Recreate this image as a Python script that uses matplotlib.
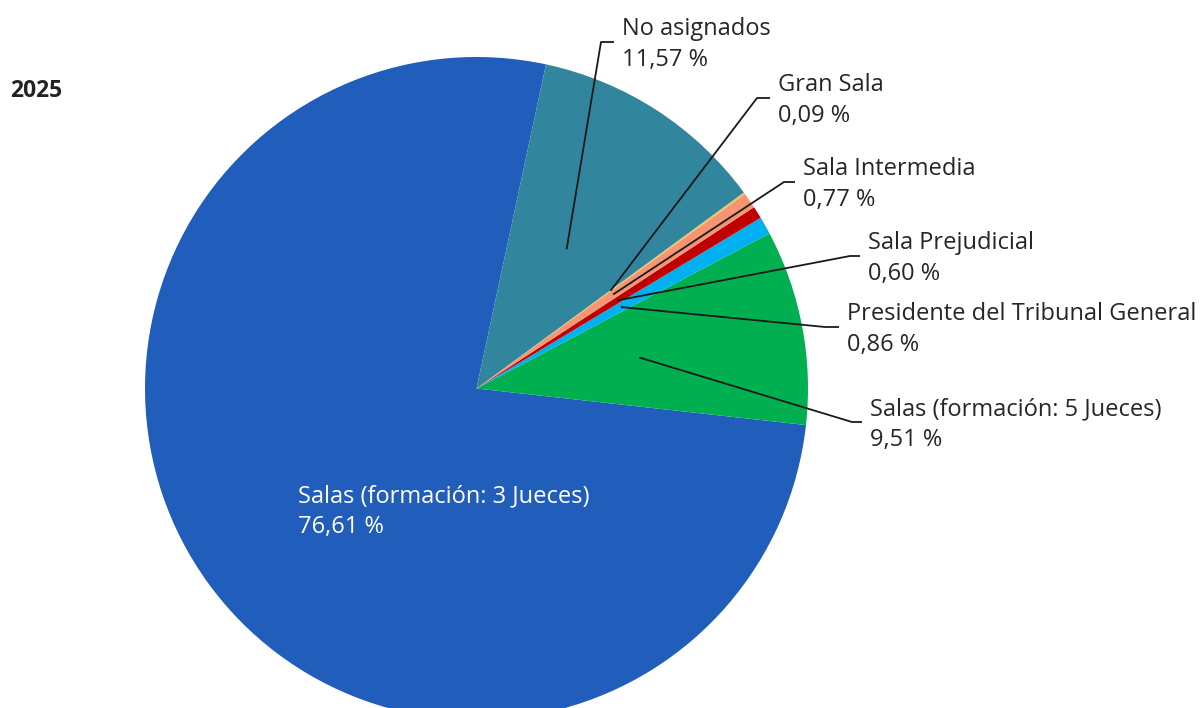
import numpy as np
import matplotlib
matplotlib.use("Agg")
from matplotlib import pyplot as plt

# slices in drawing order (counter-clockwise from the top-left edge of the big slice)
labels = ["Salas (formación: 3 Jueces)", "Salas (formación: 5 Jueces)",
          "Presidente del Tribunal General", "Sala Prejudicial",
          "Sala Intermedia", "Gran Sala", "No asignados"]
values = [76.61, 9.51, 0.86, 0.60, 0.77, 0.09, 11.57]
value_labels = ["76,61 %", "9,51 %", "0,86 %", "0,60 %", "0,77 %", "0,09 %", "11,57 %"]
colors = ["#215dba", "#00b050", "#00b0f0", "#c00000", "#f79472", "#f2c75c", "#31859c"]
title = "2025"

W, H = 1202, 708
CX, CY, R = 476.5, 388.5, 331.5
START = 77.9

plt.rcParams['font.family'] = ['Open Sans', 'DejaVu Sans']


def px(x, y):
    # pixel position -> data position (pie radius = 1)
    return (x - CX) / R, (CY - y) / R


fig = plt.figure(figsize=(W / 100, H / 100), dpi=100)
ax = fig.add_axes([0, 0, 1, 1])
wedges, _ = ax.pie(values, colors=colors, startangle=START, counterclock=True,
                   radius=1, center=(0, 0), wedgeprops=dict(linewidth=0))
ax.set_xlim(px(0, 0)[0], px(W, 0)[0])
ax.set_ylim(px(0, H)[1], px(0, 0)[1])
ax.set_aspect('auto')
ax.axis('off')

# label layout: (knee x, text x, knee y) in pixels, None for the inside label
layout = [None,
          (852, 870, 422),
          (825, 847, 327),
          (850, 868, 256),
          (784, 803, 182),
          (757, 778, 98),
          (601, 622, 42)]

tc = "#262626"
fs = 17
for w, lab, vl, lay in zip(wedges, labels, value_labels, layout):
    mid = np.deg2rad((w.theta1 + w.theta2) / 2)
    if lay is None:
        x0 = px(298, 0)[0]
        ax.text(x0, px(0, 502)[1], lab, color="white", fontsize=fs, ha="left", va="baseline")
        ax.text(x0, px(0, 533)[1], vl, color="white", fontsize=fs, ha="left", va="baseline")
        continue
    kx, tx, ky = lay
    ax_, ay_ = 0.5 * np.cos(mid), 0.5 * np.sin(mid)
    k = px(kx, ky)
    e = px(tx - 8, ky)
    ax.plot([ax_, k[0], e[0]], [ay_, k[1], e[1]], color="#1a1a1a", lw=1.3,
            solid_capstyle="butt")
    ax.text(px(tx, 0)[0], px(0, ky - 7)[1], lab, color=tc, fontsize=fs, ha="left", va="baseline")
    ax.text(px(tx, 0)[0], px(0, ky + 24)[1], vl, color=tc, fontsize=fs, ha="left", va="baseline")

ax.text(px(10, 0)[0], px(0, 97)[1], title, color="#222222", fontsize=16.5,
        fontweight="bold", ha="left", va="baseline")

fig.savefig("out.png", dpi=100)
